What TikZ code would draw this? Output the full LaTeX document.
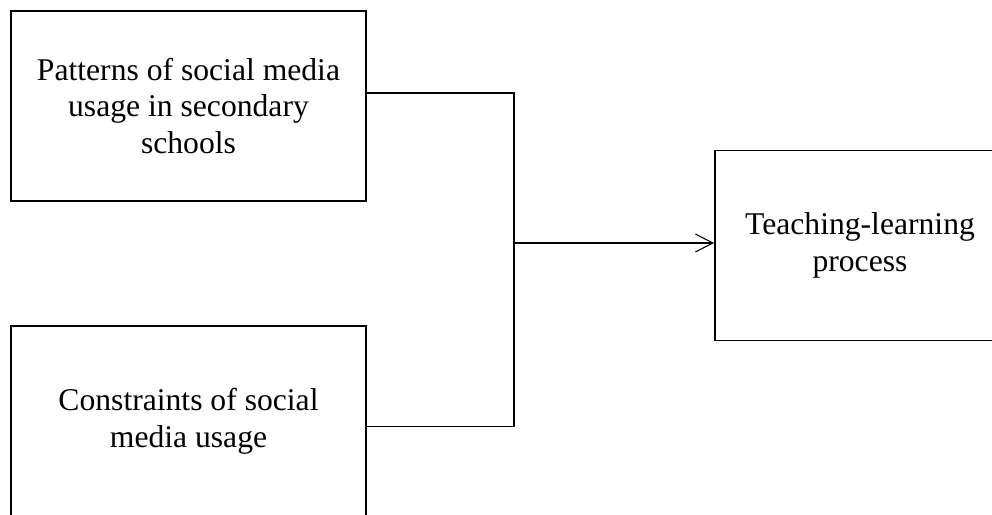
\documentclass[tikz,border=0pt]{standalone}
\usepackage{fontspec}
\setmainfont{Liberation Serif}
\usepackage{tikz}
\usetikzlibrary{arrows.meta,positioning}
\tikzset{
  blk/.style={draw,line width=1.1pt,minimum width=7.1cm,minimum height=3.8cm,
              font=\fontsize{18}{21}\selectfont,align=center,inner sep=0pt},
  link/.style={line width=0.6pt},
  arr/.style={line width=0.6pt,-{Straight Barb[length=3.5mm,width=3.6mm]}},
}
\begin{document}
\begin{tikzpicture}
  \clip (0,0) rectangle (19.84,10.28);
  %% Input boxes
  \node[blk] (pat) at (3.77,8.16) {Patterns of social media\\usage in secondary\\schools};
  \node[blk,below=2.46cm of pat] (con) {Constraints of social\\media usage};
  %% Outcome box
  \node[blk,minimum width=5.8cm] (tlp) at (17.2,5.37) {Teaching-learning\\process};

  %% Connectors
  \coordinate (jn) at (10.28,5.42);
  \draw[link] ([yshift=0.26cm]pat.east) -| (jn);
  \draw[link] ([yshift=-0.12cm]con.east) -| (jn);
  \draw[arr] (jn) -- (jn -| tlp.west);
\end{tikzpicture}
\end{document}
